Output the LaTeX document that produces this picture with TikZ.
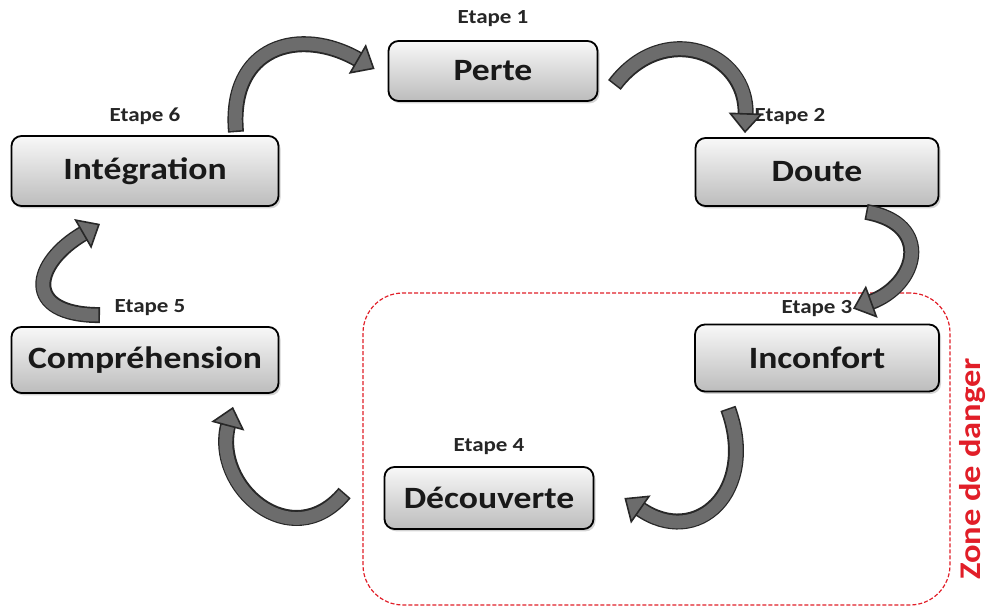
\documentclass[tikz,border=0pt]{standalone}
\usepackage{fontspec}
\setmainfont{Carlito}[FakeStretch=1.15]
\usetikzlibrary{arrows.meta,positioning,calc,shadows}
\definecolor{boxtop}{RGB}{248,248,248}
\definecolor{boxbottom}{RGB}{188,188,188}
\definecolor{arrowfill}{RGB}{108,108,108}
\definecolor{arrowline}{RGB}{40,40,40}
\definecolor{dangerred}{RGB}{225,30,40}
\tikzset{
    %Define style for boxes
    stepbox/.style={
           rectangle,
           rounded corners=5pt,
           draw=black, line width=0.9pt,
           top color=boxtop, bottom color=boxbottom,
           drop shadow={opacity=0.35, shadow xshift=1pt, shadow yshift=-1.2pt},
           font=\fontsize{15.5}{18}\selectfont\bfseries,
           text=black!90,
           text centered},
    %Define style for step labels
    steplabel/.style={
           inner sep=0pt,
           font=\fontsize{10}{12}\selectfont\bfseries,
           text=black!85},
    % Define arrow style
    bigarrow/.style={
           draw=arrowfill, line width=6.4pt,
           shorten <=0.8pt,
           -{Triangle[length=10pt,width=17pt,color=arrowline,fill=arrowfill,line width=0.8pt]},
           preaction={draw=arrowline, line width=8pt, arrows=-, shorten <=0pt, shorten >=9pt}},
    % Define style for the danger zone
    zone/.style={
           draw=dangerred, dash pattern=on 2pt off 1pt, line width=0.6pt,
           rounded corners=20pt, inner sep=0pt},
    zonelabel/.style={
           rotate=90, inner sep=0pt, text=dangerred,
           font=\fontsize{15}{18}\selectfont\bfseries}
}
\begin{document}
\begin{tikzpicture}[x=0.5pt,y=0.5pt]
\useasboundingbox (0,0) rectangle (986,-608);
% danger zone
\node[zone, minimum width=293.5pt, minimum height=156pt] (danger) at (656.5,-449) {};
\node[zonelabel, anchor=north] (zonelbl) at ([xshift=4pt,yshift=-10pt]danger.east) {Zone de danger};

% steps
\node[stepbox, minimum width=104.5pt, minimum height=30pt] (perte) at (493,-71) {Perte};
\node[stepbox, minimum width=121.5pt, minimum height=34pt] (doute) at (817,-172) {Doute};
\node[stepbox, minimum width=122pt, minimum height=33.5pt] (inconfort) at (817,-358) {Inconfort};
\node[stepbox, minimum width=104.5pt, minimum height=31pt] (decouverte) at (489,-498) {Découverte};
\node[stepbox, minimum width=133.5pt, minimum height=33pt] (comprehension) at (145,-360) {Compréhension};
\node[stepbox, minimum width=133.5pt, minimum height=35pt] (integration) at (145,-171) {Intégration};

\node[steplabel, above=6.5pt of perte] (etape1) {Etape 1};
\node[steplabel, above=6pt of doute, xshift=-13.5pt] (etape2) {Etape 2};
\node[steplabel, above=3.5pt of inconfort] (etape3) {Etape 3};
\node[steplabel, above=5.5pt of decouverte] (etape4) {Etape 4};
\node[steplabel, above=5pt of comprehension, xshift=2.5pt] (etape5) {Etape 5};
\node[steplabel, above=5pt of integration] (etape6) {Etape 6};

% cycle arrows
\draw[bigarrow] ($(integration.north)+(91,3)$) to[out=95,in=150,looseness=1.45] ($(perte.west)+(-13,2)$);
\draw[bigarrow] ($(perte.east)+(16,-14)$) to[out=53,in=88,looseness=1.5] ($(doute.north)+(-72,4)$);
\draw[bigarrow] ($(doute.south)+(49,-5)$) to[out=-10,in=20,looseness=1.8] ($(inconfort.north)+(36,15)$);
\draw[bigarrow] ($(inconfort.south)+(-89,-16)$) to[out=-70,in=-35,looseness=1.65] ($(decouverte.east)+(30,0)$);
\draw[bigarrow] ($(decouverte.west)+(-39,5)$) to[out=-130,in=-105,looseness=1.5] ($(comprehension.south)+(88,-13)$);
\draw[bigarrow] ($(comprehension.north)+(-45,11)$) to[out=180,in=210,looseness=2.2] ($(integration.south)+(-45,-17)$);
\end{tikzpicture}
\end{document}
